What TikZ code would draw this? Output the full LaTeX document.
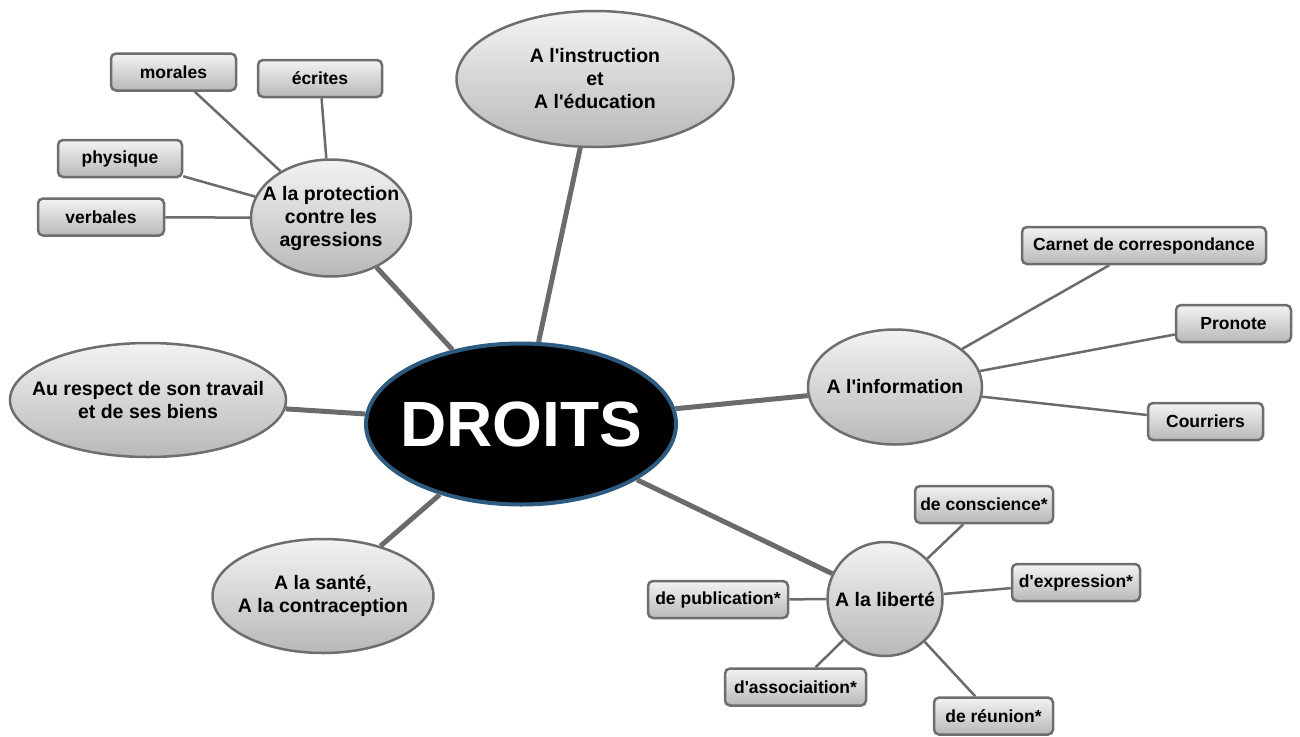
\documentclass[tikz,border=0pt]{standalone}
\usepackage{fontspec}
\newfontfamily\lsans{Liberation Sans}
\usetikzlibrary{shapes.geometric}
\definecolor{bord}{HTML}{6E6E6E}
\definecolor{conn}{HTML}{6B6B6B}
\definecolor{topc}{HTML}{F3F3F3}
\definecolor{botc}{HTML}{B8B8B8}
\definecolor{blueb}{HTML}{2D5B80}
\begin{document}
\begin{tikzpicture}[x=1pt,y=-1pt,
  bubble/.style={ellipse, draw=bord, line width=2.5pt, top color=topc, bottom color=botc, inner sep=0pt},
  lbl/.style={font=\lsans\bfseries\fontsize{19.5}{23}\selectfont, align=center, text=black},
  boxn/.style={rectangle, rounded corners=5pt, draw=bord, line width=2.5pt, top color=topc, bottom color=botc,
    minimum height=37pt, inner sep=0pt, font=\lsans\bfseries\fontsize{17.5}{20}\selectfont},
  mainc/.style={draw=conn, line width=5pt},
  subc/.style={draw=conn, line width=2.5pt}]
\useasboundingbox (0,0) rectangle (1300,736);

% central node
\node[ellipse, fill=black, draw=blueb, line width=4pt, minimum width=310pt, minimum height=161pt, inner sep=0pt,
  label={[font=\lsans\bfseries\fontsize{64}{70}\selectfont, text=white]center:DROITS}] (droits) at (521,424) {};

% first-level bubbles
\node[bubble, minimum width=277pt, minimum height=136pt,
  label={[lbl]center:{A l'instruction\\et\\A l'éducation}}] (instr) at (595,79) {};
\node[bubble, minimum width=160pt, minimum height=117pt,
  label={[lbl]center:{A la protection\\contre les\\agressions}}] (prot) at (331,218) {};
\node[bubble, minimum width=276pt, minimum height=114pt,
  label={[lbl]center:{Au respect de son travail\\et de ses biens}}] (respect) at (148,400) {};
\node[bubble, minimum width=221pt, minimum height=114pt,
  label={[lbl]center:{A la santé,\\A la contraception}}] (sante) at (323,596) {};
\node[bubble, minimum width=174pt, minimum height=115pt,
  label={[lbl]center:{A l'information}}] (info) at (895,387) {};
\node[bubble, minimum width=115pt, minimum height=114pt,
  label={[lbl]center:{A la liberté}}] (liberte) at (885,599) {};

% leaf boxes
\node[boxn, minimum width=125pt] (morales) at (173.5,72) {morales};
\node[boxn, minimum width=124pt] (ecrites) at (320,78.5) {écrites};
\node[boxn, minimum width=124pt] (physique) at (120,158.5) {physique};
\node[boxn, minimum width=126pt] (verbales) at (101,217) {verbales};
\node[boxn, minimum width=244pt] (carnet) at (1144,245.5) {Carnet de correspondance};
\node[boxn, minimum width=115pt] (pronote) at (1233.5,323.5) {Pronote};
\node[boxn, minimum width=115pt] (courriers) at (1205.5,421.5) {Courriers};
\node[boxn, minimum width=138pt] (conscience) at (984,504.5) {de conscience*};
\node[boxn, minimum width=128pt] (expression) at (1076,582.5) {d'expression*};
\node[boxn, minimum width=140pt] (publication) at (718,599.5) {de publication*};
\node[boxn, minimum width=141pt] (association) at (795.5,687) {d'associaition*};
\node[boxn, minimum width=119pt] (reunion) at (993.5,716) {de réunion*};

% main connectors
\draw[mainc] (droits) -- (instr);
\draw[mainc] (droits) -- (prot);
\draw[mainc] (droits) -- (respect);
\draw[mainc] (droits) -- (sante);
\draw[mainc] (droits) -- (info);
\draw[mainc] (droits) -- (liberte);

% secondary connectors
\draw[subc] (prot) -- (morales);
\draw[subc] (prot) -- (ecrites);
\draw[subc] (prot) -- (physique);
\draw[subc] (prot) -- (verbales);
\draw[subc] (info) -- (carnet);
\draw[subc] (info) -- (pronote);
\draw[subc] (info) -- (courriers);
\draw[subc] (liberte) -- (conscience);
\draw[subc] (liberte) -- (expression);
\draw[subc] (liberte) -- (publication);
\draw[subc] (liberte) -- (association);
\draw[subc] (liberte) -- (reunion);
\end{tikzpicture}
\end{document}
